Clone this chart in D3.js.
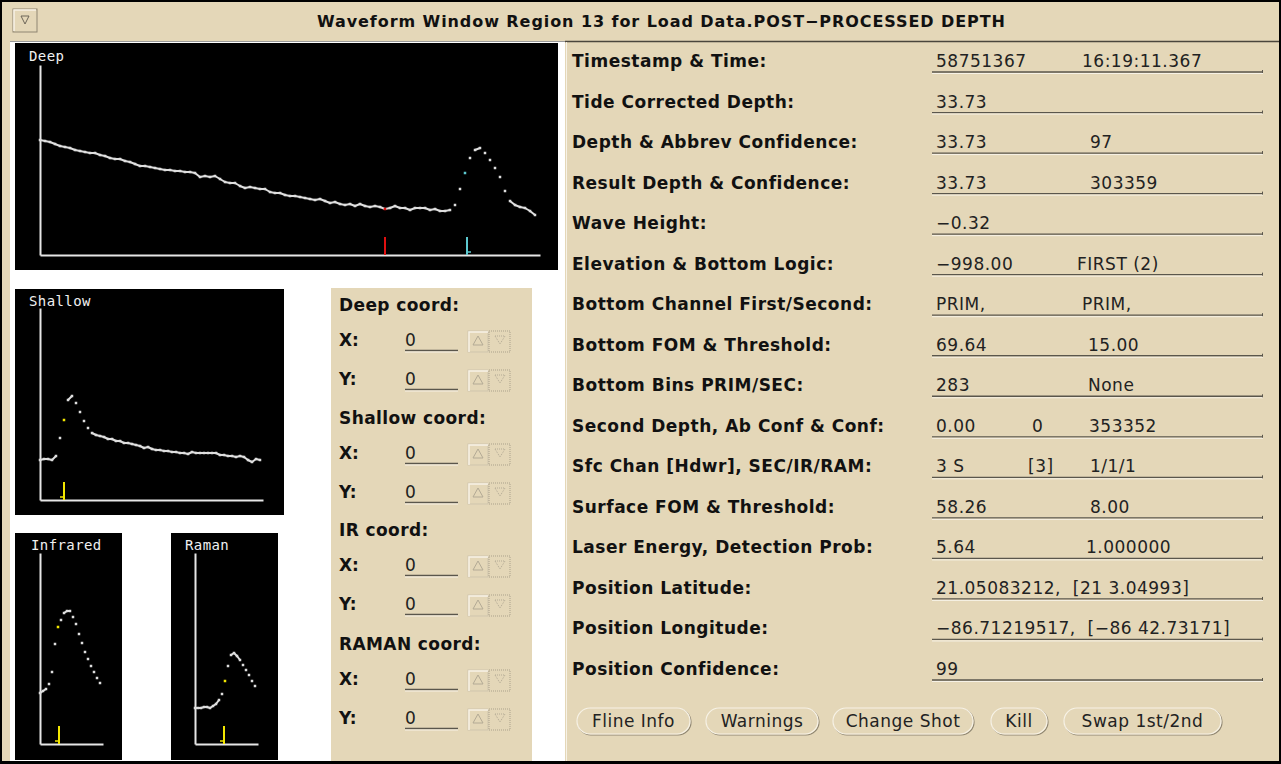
<!DOCTYPE html>
<html>
<head>
<meta charset="utf-8">
<script src="https://cdn.jsdelivr.net/npm/d3@7"></script>
<style>
  html, body { margin: 0; padding: 0; background: #e4d7b8; overflow: hidden; }
  svg { display: block; }
  text { white-space: pre; }
</style>
</head>
<body>
<script>
(function () {
  // -- DATA ------------------------------------------------
  // return amplitudes per sample bin
  const deepSamples = [
    115, 114, 113, 111, 109, 108, 107, 105, 104, 103,
    102, 102, 100, 99, 97, 96, 96, 94, 93, 91,
    89, 89, 88, 87, 86, 85, 85, 84, 84, 83,
    83, 82, 78, 79, 78, 79, 76, 73, 72, 72,
    69, 67, 68, 67, 66, 66, 63, 62, 62, 60,
    59, 59, 58, 57, 56, 55, 56, 54, 52, 53,
    51, 50, 51, 49, 51, 49, 48, 49, 48, 46,
    47, 49, 47, 47, 45, 47, 47, 47, 45, 46,
    44, 44, 45, 50, 66, 82, 97, 105, 107, 102,
    95, 87, 78, 64, 54, 50, 48, 47, 44, 40
  ];
  const shallowSamples = [
    40, 41, 41, 40, 44, 62, 80, 100, 104, 97,
    88, 79, 72, 67, 65, 64, 63, 61, 61, 59,
    59, 57, 57, 56, 55, 54, 52, 53, 51, 50,
    50, 49, 49, 48, 48, 47, 47, 46, 48, 47,
    47, 47, 47, 47, 47, 45, 45, 44, 44, 43,
    44, 43, 40, 38, 41, 40
  ];
  const infraredSamples = [
    51, 53, 55, 60, 72, 100, 117, 124, 131, 133,
    133, 127, 120, 110, 101, 92, 85, 78, 72, 66, 61
  ];
  const ramanSamples = [
    36, 36, 36, 37, 37, 36, 38, 40, 44, 50,
    63, 78, 89, 91, 88, 84, 79, 74, 69, 63, 58
  ];

  // marker bins (bottom picks)
  const deepMarkerBins = [69, 85.4];
  const shallowMarkerBins = [6];
  const infraredMarkerBins = [6.33];
  const ramanMarkerBins = [9.67];

  const fieldLabels = [
    'Timestamp & Time:',
    'Tide Corrected Depth:',
    'Depth & Abbrev Confidence:',
    'Result Depth & Confidence:',
    'Wave Height:',
    'Elevation & Bottom Logic:',
    'Bottom Channel First/Second:',
    'Bottom FOM & Threshold:',
    'Bottom Bins PRIM/SEC:',
    'Second Depth, Ab Conf & Conf:',
    'Sfc Chan [Hdwr], SEC/IR/RAM:',
    'Surface FOM & Threshold:',
    'Laser Energy, Detection Prob:',
    'Position Latitude:',
    'Position Longitude:',
    'Position Confidence:'
  ];
  const fieldValues = [
    ['58751367', '16:19:11.367'],
    ['33.73'],
    ['33.73', '97'],
    ['33.73', '303359'],
    ['\u22120.32'],
    ['\u2212998.00', 'FIRST (2)'],
    ['PRIM,', 'PRIM,'],
    ['69.64', '15.00'],
    ['283', 'None'],
    ['0.00', '0', '353352'],
    ['3 S', '[3]', '1/1/1'],
    ['58.26', '8.00'],
    ['5.64', '1.000000'],
    ['21.05083212,  [21 3.04993]'],
    ['\u221286.71219517,  [\u221286 42.73171]'],
    ['99']
  ];

  const coordGroups = ['Deep coord:', 'Shallow coord:', 'IR coord:', 'RAMAN coord:'];
  const coordValues = [['0', '0'], ['0', '0'], ['0', '0'], ['0', '0']];

  const buttonLabels = ['Fline Info', 'Warnings', 'Change Shot', 'Kill', 'Swap 1st/2nd'];

  // -- LAYOUT ----------------------------------------------
  const W = 1281, H = 764;
  const TAN = '#e4d7b8';
  const SHADOW = '#8f8672';
  const LIGHT = '#f7f2e6';
  const WAVE = '#dedede';

  // column x positions for value fields, per row
  const valueCols = [
    [936, 1082], [936], [936, 1090], [936, 1090], [936],
    [936, 1077], [936, 1082], [936, 1088], [936, 1088],
    [936, 1032, 1089], [936, 1028, 1090], [936, 1090], [936, 1086],
    [936], [936], [936]
  ];
  const buttonBoxes = [[577, 113], [706, 112], [833, 140], [991, 56], [1064, 157]];

  const svg = d3.select('body').append('svg')
    .attr('width', W)
    .attr('height', H);

  svg.append('rect').attr('width', W).attr('height', H).attr('fill', TAN);

  // left white work area
  svg.append('rect')
    .attr('x', 10).attr('y', 41)
    .attr('width', 555).attr('height', 721)
    .attr('fill', '#fff');
  svg.append('line')
    .attr('x1', 10).attr('x2', 565).attr('y1', 41.5).attr('y2', 41.5)
    .attr('stroke', '#9a9a9a');
  svg.append('line')
    .attr('x1', 565).attr('x2', W).attr('y1', 41.5).attr('y2', 41.5)
    .attr('stroke', '#4a463c').attr('stroke-width', 1.5);
  svg.append('line')
    .attr('x1', 566.5).attr('x2', 566.5).attr('y1', 42).attr('y2', H)
    .attr('stroke', LIGHT);

  // coord panel background
  svg.append('rect')
    .attr('x', 331).attr('y', 288)
    .attr('width', 201).attr('height', 476)
    .attr('fill', TAN);

  /* -- TITLE BAR ---------------------------------------- */
  var menuBtn = svg.append('g');
  menuBtn.append('rect')
    .attr('x', 13).attr('y', 9).attr('width', 24).attr('height', 23)
    .attr('fill', TAN).attr('stroke', SHADOW);
  menuBtn.append('path')
    .attr('d', 'M14,31V10H36')
    .attr('fill', 'none').attr('stroke', LIGHT).attr('stroke-width', 1.5);
  menuBtn.append('path')
    .attr('d', 'M21,16L29,16L25,24Z')
    .attr('fill', 'none').attr('stroke', '#6d6658');

  svg.append('text')
    .attr('x', 661).attr('y', 27)
    .attr('text-anchor', 'middle')
    .attr('textLength', 688)
    .attr('lengthAdjust', 'spacing')
    .style('font', 'bold 16px "DejaVu Sans", sans-serif')
    .attr('fill', '#111')
    .text('Waveform Window Region 13 for Load Data.POST\u2212PROCESSED DEPTH');

  /* -- WAVEFORM PANELS ---------------------------------- */
  var panels = [
    {
      name: 'Deep', samples: deepSamples, markers: deepMarkerBins,
      colors: ['#e01010', '#5cc8cf'], ticks: [0, 1],
      box: [15, 43, 543, 227], label: [29, 61],
      xd: [0, 100], xr: [40, 540], yd: [0, 190], yr: [255, 65]
    },
    {
      name: 'Shallow', samples: shallowSamples, markers: shallowMarkerBins,
      colors: ['#f2e600'], ticks: [-1],
      box: [15, 289, 269, 226], label: [29, 306],
      xd: [0, 55.75], xr: [40, 263], yd: [0, 192], yr: [500, 308]
    },
    {
      name: 'Infrared', samples: infraredSamples, markers: infraredMarkerBins,
      colors: ['#f2e600'], ticks: [-1],
      box: [15, 533, 107, 227], label: [31, 550],
      xd: [0, 21], xr: [40, 103], yd: [0, 191], yr: [744, 553]
    },
    {
      name: 'Raman', samples: ramanSamples, markers: ramanMarkerBins,
      colors: ['#f2e600'], ticks: [-1],
      box: [171, 533, 107, 227], label: [185, 550],
      xd: [0, 21], xr: [195, 258], yd: [0, 191], yr: [744, 553]
    }
  ];

  function drawPanel(p) {
    var g = svg.append('g');
    g.append('rect')
      .attr('x', p.box[0]).attr('y', p.box[1])
      .attr('width', p.box[2]).attr('height', p.box[3])
      .attr('fill', '#000');

    g.append('text')
      .attr('x', p.label[0]).attr('y', p.label[1])
      .attr('fill', '#f0f0f0')
      .style('font', '14px "DejaVu Sans Mono", monospace')
      .style('letter-spacing', '0.4px')
      .text(p.name);

    var x = d3.scaleLinear().domain(p.xd).range(p.xr);
    var y = d3.scaleLinear().domain(p.yd).range(p.yr);

    var xAxis = g.append('g')
      .attr('transform', 'translate(0,' + y(0) + ')')
      .call(d3.axisBottom(x).ticks(0).tickSizeOuter(0));
    var yAxis = g.append('g')
      .attr('transform', 'translate(' + x(0) + ',0)')
      .call(d3.axisLeft(y).ticks(0).tickSizeOuter(0));
    [xAxis, yAxis].forEach(function (a) {
      a.select('.domain').attr('stroke', '#e6e6e6').attr('stroke-width', 2);
    });

    // connect neighbouring samples only where the trace is nearly flat
    var pairs = d3.pairs(p.samples.map(function (v, i) { return [i, v]; }));
    g.append('g').selectAll('line')
      .data(pairs.filter(function (pr) { return Math.abs(y(pr[0][1]) - y(pr[1][1])) < 4.5; }))
      .join('line')
      .attr('x1', function (pr) { return x(pr[0][0]); })
      .attr('y1', function (pr) { return y(pr[0][1]); })
      .attr('x2', function (pr) { return x(pr[1][0]); })
      .attr('y2', function (pr) { return y(pr[1][1]); })
      .attr('stroke', WAVE)
      .attr('stroke-width', 2);

    var hot = {};
    p.markers.forEach(function (b, k) { hot[Math.round(b)] = p.colors[k]; });

    g.append('g').selectAll('rect')
      .data(p.samples)
      .join('rect')
      .attr('x', function (d, i) { return x(i) - 1.25; })
      .attr('y', function (d) { return y(d) - 1.25; })
      .attr('width', 2.5).attr('height', 2.5)
      .attr('fill', function (d, i) { return hot[i] || WAVE; });

    var mk = g.append('g').selectAll('g')
      .data(p.markers)
      .join('g');
    mk.append('line')
      .attr('x1', function (d) { return x(d); })
      .attr('x2', function (d) { return x(d); })
      .attr('y1', y(0) - 18)
      .attr('y2', y(0))
      .attr('stroke', function (d, k) { return p.colors[k]; })
      .attr('stroke-width', 2);
    mk.filter(function (d, k) { return p.ticks[k] !== 0; })
      .append('line')
      .attr('x1', function (d) { return x(d); })
      .attr('x2', function (d) { return x(d) + 4 * p.ticks[p.markers.indexOf(d)]; })
      .attr('y1', y(0) - 3)
      .attr('y2', y(0) - 3)
      .attr('stroke', function (d) { return p.colors[p.markers.indexOf(d)]; })
      .attr('stroke-width', 1.5);
  }

  panels.forEach(drawPanel);

  /* -- COORD PANEL -------------------------------------- */
  var groupY = [311, 424, 536, 650];
  var boldFont = 'bold 17px "DejaVu Sans", sans-serif';
  var plainFont = '17px "DejaVu Sans", sans-serif';

  function spinner(gx, by) {
    var s = svg.append('g');
    s.append('rect')
      .attr('x', gx).attr('y', by - 15).attr('width', 20).attr('height', 21)
      .attr('fill', TAN).attr('stroke', '#cfc5ad');
    s.append('path')
      .attr('d', 'M' + (gx + 1) + ',' + (by + 6) + 'V' + (by - 14) + 'H' + (gx + 20))
      .attr('fill', 'none').attr('stroke', LIGHT).attr('stroke-width', 1.5);
    s.append('path')
      .attr('d', 'M' + (gx + 10) + ',' + (by - 10) + 'L' + (gx + 15) + ',' + (by - 1) + 'L' + (gx + 5) + ',' + (by - 1) + 'Z')
      .attr('fill', 'none').attr('stroke', '#b3aa95');
    s.append('rect')
      .attr('x', gx + 21).attr('y', by - 15).attr('width', 21).attr('height', 21)
      .attr('fill', TAN).attr('stroke', '#aaa18b').attr('stroke-dasharray', '1,1');
    s.append('path')
      .attr('d', 'M' + (gx + 27) + ',' + (by - 10) + 'L' + (gx + 37) + ',' + (by - 10) + 'L' + (gx + 32) + ',' + (by - 2) + 'Z')
      .attr('fill', 'none').attr('stroke', '#b3aa95').attr('stroke-dasharray', '1,1');
  }

  coordGroups.forEach(function (name, gi) {
    var gy = groupY[gi];
    svg.append('text')
      .attr('x', 339).attr('y', gy)
      .style('font', boldFont).style('letter-spacing', '0.4px')
      .attr('fill', '#111')
      .text(name);
    ['X:', 'Y:'].forEach(function (axisName, ri) {
      var by = gy + 35 + ri * 39;
      svg.append('text')
        .attr('x', 339).attr('y', by)
        .style('font', boldFont)
        .attr('fill', '#111')
        .text(axisName);
      svg.append('text')
        .attr('x', 405).attr('y', by)
        .style('font', plainFont)
        .attr('fill', '#222')
        .text(coordValues[gi][ri]);
      svg.append('line')
        .attr('x1', 405).attr('x2', 458).attr('y1', by + 4.5).attr('y2', by + 4.5)
        .attr('stroke', '#5a564c').attr('stroke-width', 1.3);
      svg.append('line')
        .attr('x1', 405).attr('x2', 458).attr('y1', by + 6).attr('y2', by + 6)
        .attr('stroke', LIGHT);
      spinner(468, by);
    });
  });

  /* -- RESULT FIELDS ------------------------------------ */
  var rowY = d3.scalePoint().domain(d3.range(fieldLabels.length)).range([61, 669]);

  var rows = svg.append('g').selectAll('g')
    .data(fieldLabels)
    .join('g')
    .attr('transform', function (d, i) { return 'translate(0,' + rowY(i) + ')'; });

  rows.append('text')
    .attr('x', 572).attr('y', 6)
    .style('font', boldFont).style('letter-spacing', '0.5px')
    .attr('fill', '#111')
    .text(function (d) { return d; });

  rows.append('line')
    .attr('x1', 932).attr('x2', 1262).attr('y1', 11).attr('y2', 11)
    .attr('stroke', '#5a564c').attr('stroke-width', 1.3);
  rows.append('line')
    .attr('x1', 932).attr('x2', 1263).attr('y1', 12.5).attr('y2', 12.5)
    .attr('stroke', LIGHT);
  rows.append('line')
    .attr('x1', 1262.5).attr('x2', 1262.5).attr('y1', 9).attr('y2', 12)
    .attr('stroke', '#5a564c');

  rows.each(function (d, i) {
    d3.select(this).selectAll('text.val')
      .data(fieldValues[i])
      .join('text')
      .attr('class', 'val')
      .attr('x', function (v, k) { return valueCols[i][k]; })
      .attr('y', 6)
      .style('font', plainFont).style('letter-spacing', '0.5px')
      .attr('fill', '#222')
      .text(function (v) { return v; });
  });

  /* -- BUTTONS ------------------------------------------ */
  var btn = svg.append('g').selectAll('g')
    .data(buttonLabels)
    .join('g')
    .attr('transform', function (d, i) { return 'translate(' + buttonBoxes[i][0] + ',708)'; });

  btn.append('rect')
    .attr('x', 1).attr('y', 1)
    .attr('width', function (d, i) { return buttonBoxes[i][1]; })
    .attr('height', 26).attr('rx', 13)
    .attr('fill', 'none').attr('stroke', SHADOW).attr('stroke-width', 1.2);
  btn.append('rect')
    .attr('width', function (d, i) { return buttonBoxes[i][1]; })
    .attr('height', 26).attr('rx', 13)
    .attr('fill', TAN).attr('stroke', LIGHT).attr('stroke-width', 1.2);
  btn.append('text')
    .attr('x', function (d, i) { return buttonBoxes[i][1] / 2; })
    .attr('y', 19)
    .attr('text-anchor', 'middle')
    .style('font', plainFont).style('letter-spacing', '0.5px')
    .attr('fill', '#222')
    .text(function (d) { return d; });

  /* -- FRAME -------------------------------------------- */
  svg.append('rect')
    .attr('x', 1).attr('y', 1).attr('width', W - 2).attr('height', H - 3)
    .attr('fill', 'none').attr('stroke', '#000').attr('stroke-width', 2);
  svg.append('line')
    .attr('x1', 0).attr('x2', W).attr('y1', H - 1.5).attr('y2', H - 1.5)
    .attr('stroke', '#000').attr('stroke-width', 3);
})();
</script>
</body>
</html>
